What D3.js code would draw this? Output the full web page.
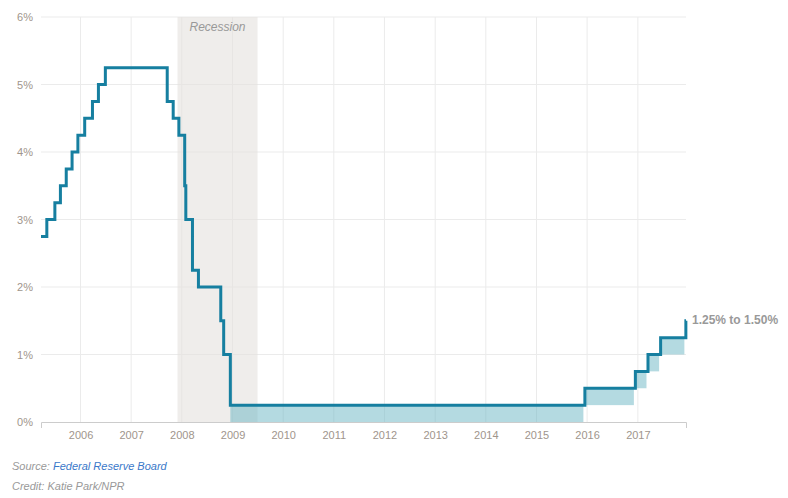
<!DOCTYPE html>
<html>
<head>
<meta charset="utf-8">
<script src="https://cdn.jsdelivr.net/npm/d3@7"></script>
<style>
  body { margin: 0; background: #fff; font-family: "Liberation Sans", Arial, sans-serif; }
  .note { position: absolute; left: 12px; font-size: 11px; font-style: italic; color: #999; }
  .note a { color: #3a78c9; text-decoration: none; }
</style>
</head>
<body>
<div id="chart"></div>
<div class="note" style="top:460px">Source: <a>Federal Reserve Board</a></div>
<div class="note" style="top:480px">Credit: Katie Park/NPR</div>
<script>
// target changes (date, upper bound, lower bound of range or null)
var changeDates = ["2005-03-22","2005-05-03","2005-06-30","2005-08-09","2005-09-20","2005-11-01",
  "2005-12-13","2006-01-31","2006-03-28","2006-05-10","2006-06-29","2007-09-18","2007-10-31",
  "2007-12-11","2008-01-22","2008-01-30","2008-03-18","2008-04-30","2008-10-08","2008-10-29",
  "2008-12-16","2015-12-16","2016-12-14","2017-03-15","2017-06-14","2017-12-13"]
var upperRate = [2.75,3.00,3.25,3.50,3.75,4.00,4.25,4.50,4.75,5.00,5.25,4.75,4.50,
  4.25,3.50,3.00,2.25,2.00,1.50,1.00,0.25,0.50,0.75,1.00,1.25,1.50]
var lowerRate = [null,null,null,null,null,null,null,null,null,null,null,null,null,
  null,null,null,null,null,null,null,0,0.25,0.50,0.75,1.00,1.25]
var endDate = "2017-12-14"
var recession = ["2007-12-01","2009-06-30"]
var yTicks = [0,1,2,3,4,5,6]
var yearTicks = [2006,2007,2008,2009,2010,2011,2012,2013,2014,2015,2016,2017]

var parse = d3.timeParse("%Y-%m-%d")
var data = changeDates.map(function(d, i) {
  return {date: parse(d), hi: upperRate[i], lo: lowerRate[i],
          next: i < changeDates.length - 1 ? parse(changeDates[i+1]) : parse(endDate)}
})

var margin = {top: 17, right: 102, bottom: 76, left: 41},
    width = 788 - margin.left - margin.right,
    height = 498 - margin.top - margin.bottom

var svg = d3.select("#chart").append("svg")
    .attr("width", 788).attr("height", 498)
  .append("g")
    .attr("transform", "translate(" + margin.left + "," + margin.top + ")")

var x = d3.scaleTime().domain([parse(changeDates[0]), parse(endDate)]).range([0, width])
var y = d3.scaleLinear().domain([0, 6]).range([height, 0])

// gridlines
svg.append("g").selectAll("line").data(yTicks.slice(1)).enter().append("line")
  .attr("x1", 0).attr("x2", width)
  .attr("y1", function(d){ return y(d) }).attr("y2", function(d){ return y(d) })
  .attr("stroke", "#ebebeb")
svg.append("g").selectAll("line").data(yearTicks).enter().append("line")
  .attr("x1", function(d){ return x(new Date(d, 0, 1)) })
  .attr("x2", function(d){ return x(new Date(d, 0, 1)) })
  .attr("y1", 0).attr("y2", height)
  .attr("stroke", "#ebebeb")

// recession band
svg.append("rect")
  .attr("x", x(parse(recession[0])))
  .attr("width", x(parse(recession[1])) - x(parse(recession[0])))
  .attr("y", 0).attr("height", height)
  .attr("fill", "#e4e1dd").attr("opacity", 0.6)
svg.append("text")
  .attr("x", (x(parse(recession[0])) + x(parse(recession[1]))) / 2)
  .attr("y", 14)
  .attr("text-anchor", "middle")
  .style("font-size", "12px").style("font-style", "italic").style("fill", "#999")
  .text("Recession")

// target range fill
svg.append("g").selectAll("rect").data(data.filter(function(d){ return d.lo !== null })).enter()
  .append("rect")
  .attr("x", function(d){ return x(d.date) })
  .attr("width", function(d){ return Math.max(0, x(d.next) - x(d.date) - 1.5) })
  .attr("y", function(d){ return y(d.hi) })
  .attr("height", function(d){ return y(d.lo) - y(d.hi) })
  .attr("fill", "#6ab6c4").attr("opacity", 0.5)

// step line of upper bound
var pts = data.map(function(d){ return [d.date, d.hi] })
pts.push([parse(endDate), upperRate[upperRate.length - 1]])
svg.append("path")
  .datum(pts)
  .attr("fill", "none")
  .attr("stroke", "#167fa0")
  .attr("stroke-width", 3)
  .attr("d", d3.line().curve(d3.curveStepAfter)
    .x(function(d){ return x(d[0]) }).y(function(d){ return y(d[1]) }))

// axes
var yAxis = svg.append("g")
  .call(d3.axisLeft(y).tickValues(yTicks).tickSize(0).tickPadding(8)
    .tickFormat(function(d){ return d + "%" }))
yAxis.select(".domain").remove()
yAxis.selectAll("text").style("font-size", "11px").style("fill", "#a0958c")
  .style("font-family", "Liberation Sans, Arial, sans-serif")

var xAxis = svg.append("g")
  .attr("transform", "translate(0," + height + ")")
  .call(d3.axisBottom(x).tickValues(yearTicks.map(function(d){ return new Date(d, 0, 1) }))
    .tickSize(0).tickSizeOuter(6).tickPadding(9).tickFormat(d3.timeFormat("%Y")))
xAxis.select(".domain").attr("stroke", "#ccc")
xAxis.selectAll("text").style("font-size", "11px").style("fill", "#a0958c")
  .style("font-family", "Liberation Sans, Arial, sans-serif")

// end label
svg.append("text")
  .attr("x", width + 6)
  .attr("y", y(1.5) + 3)
  .style("font-size", "12px").style("font-weight", "bold").style("fill", "#999")
  .text("1.25% to 1.50%")
</script>
</body>
</html>
